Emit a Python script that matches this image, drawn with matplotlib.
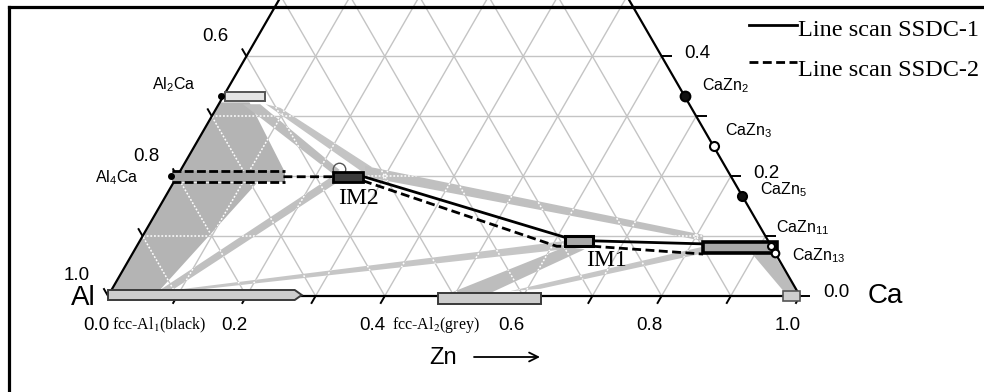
import numpy as np
import matplotlib
matplotlib.use('Agg')
import matplotlib.pyplot as plt
from matplotlib.patches import Polygon, Rectangle
from matplotlib.collections import LineCollection
from matplotlib.lines import Line2D

plt.rcParams['mathtext.fontset'] = 'custom'
plt.rcParams['mathtext.rm'] = 'Liberation Sans'
plt.rcParams['mathtext.it'] = 'Liberation Sans'
plt.rcParams['font.family'] = ['Liberation Sans', 'DejaVu Sans']

# ---------------- data (ternary compositions: Zn fraction, Ca fraction) -------------
zn_tick_values = [0.0, 0.2, 0.4, 0.6, 0.8, 1.0]
zn_tick_labels = ['0.0', '0.2', '0.4', '0.6', '0.8', '1.0']
al_tick_ca = [0.0, 0.2, 0.4]           # Ca level of Al-axis labels
al_tick_labels = ['1.0', '0.8', '0.6']
ca_tick_values = [0.0, 0.2, 0.4]
ca_tick_labels = ['0.0', '0.2', '0.4']

# compounds on the Ca-Zn edge
cmp_names = [r'CaZn$_{2}$', r'CaZn$_{3}$', r'CaZn$_{5}$', r'CaZn$_{11}$', r'CaZn$_{13}$']
cmp_ca = [0.333, 0.250, 0.167, 0.083, 0.071]

# phase composition ranges (rectangles): Zn range at a Ca level
ph_names = ['Al2Ca', 'Al4Ca', 'IM2', 'IM1', 'CaZn13', 'fcc-Al1', 'fcc-Al2', 'Zn']
ph_zn_lo = [0.003, -0.008, 0.226, 0.6145, 0.819, 0.000, 0.477, 0.975]
ph_zn_hi = [0.060, 0.156, 0.269, 0.655, 0.926, 0.280, 0.626, 1.000]
ph_ca = [0.333, 0.200, 0.199, 0.092, 0.081, 0.000, 0.000, 0.000]

# shaded phase-field regions (Zn, Ca)
region_big_upper = [(0.0, 0.323), (0.043, 0.323), (0.152, 0.207), (0.0, 0.204)]
region_big_lower = [(0.0, 0.189), (0.121, 0.189), (0.070, 0.010), (0.0, 0.007)]
band_al2ca_im2_a = [(0.035, 0.320), (0.060, 0.320), (0.230, 0.210), (0.223, 0.204)]
band_al2ca_im2_b = [(0.068, 0.320), (0.092, 0.314), (0.274, 0.215), (0.264, 0.207)]
band_im2_cazn13 = [(0.263, 0.217), (0.809, 0.102), (0.814, 0.092), (0.272, 0.199)]
band_fcc1_im2 = [(0.070, 0.010), (0.088, 0.010), (0.237, 0.190), (0.222, 0.197)]
band_fcc1_im1 = [(0.072, 0.007), (0.107, 0.008), (0.621, 0.078), (0.615, 0.092)]
band_fcc2_cazn13 = [(0.577, 0.008), (0.619, 0.012), (0.827, 0.072), (0.821, 0.083)]
band_fcc2_im1 = [(0.492, 0.005), (0.550, 0.005), (0.650, 0.078), (0.620, 0.082)]
band_cazn13_zn = [(0.896, 0.070), (0.927, 0.070), (0.995, 0.005), (0.976, 0.005)]

# line scans
ssdc1_zn = [0.267, 0.611, 0.655, 0.816]
ssdc1_ca = [0.200, 0.098, 0.092, 0.087]
ssdc2_zn = [0.154, 0.229, 0.267, 0.607, 0.659, 0.825]
ssdc2_ca = [0.199, 0.199, 0.194, 0.083, 0.083, 0.070]

# ---------------- geometry helpers ----------------
SIDE = 692.0          # triangle side in pixels
PX = 1.0 / SIDE       # one pixel in data units
H = np.sqrt(3) / 2


def tern(zn, ca):
    zn = np.asarray(zn, dtype=float)
    ca = np.asarray(ca, dtype=float)
    return zn + ca / 2.0, ca * H


W_, H_ = 984, 392
fig = plt.figure(figsize=(W_ / 100, H_ / 100), dpi=100)
ax = fig.add_axes([0, 0, 1, 1])
ax.set_xlim(-108 * PX, (W_ - 108) * PX)
ax.set_ylim(-(H_ - 296) * PX, 296 * PX)
ax.set_aspect('equal')
ax.axis('off')


def fx(px):
    return px / W_


def fy(py):
    return 1 - py / H_


# ---------------- grid ----------------
steps = np.round(np.arange(0.1, 1.0, 0.1), 2)
segs = []
for c in steps:
    segs.append(np.column_stack(tern([0, 1 - c], [c, c])))
for z in steps:
    segs.append(np.column_stack(tern([z, z], [0, 1 - z])))
for a in steps:
    segs.append(np.column_stack(tern([1 - a, 0], [0, 1 - a])))
ax.add_collection(LineCollection(segs, colors='#c4c4c4', linewidths=1.0, zorder=1))

# ---------------- shaded regions ----------------
regions = [
    (region_big_upper, '#b4b4b4'),
    (region_big_lower, '#b4b4b4'),
    (band_al2ca_im2_a, '#bdbdbd'),
    (band_al2ca_im2_b, '#c4c4c4'),
    (band_im2_cazn13, '#c0c0c0'),
    (band_fcc1_im2, '#c0c0c0'),
    (band_fcc1_im1, '#c6c6c6'),
    (band_fcc2_cazn13, '#c6c6c6'),
    (band_fcc2_im1, '#bdbdbd'),
    (band_cazn13_zn, '#bcbcbc'),
]
for verts, col in regions:
    zn, ca = zip(*verts)
    x, y = tern(zn, ca)
    poly = Polygon(np.column_stack([x, y]), closed=True, facecolor=col,
                   edgecolor='none', zorder=2)
    ax.add_patch(poly)
    lc = LineCollection(segs, colors='white', linewidths=1.1,
                        linestyles=(0, (1.2, 1.2)), zorder=3)
    ax.add_collection(lc)
    lc.set_clip_path(poly)

# ---------------- triangle edges & ticks ----------------
ex, ey = tern([0, 1, 0, 0], [0, 0, 1, 0])
ax.plot(ex, ey, color='black', lw=1.6, zorder=6, solid_capstyle='butt')

tick_len = 9 * PX
tk = []
for z in np.round(np.arange(0.1, 1.01, 0.1), 2):
    x0, y0 = tern(z, 0)
    tk.append([(x0, y0), (x0 - 0.5 * tick_len, y0 - H * tick_len)])
for c in np.round(np.arange(0.0, 0.45, 0.1), 2):
    x0, y0 = tern(0, c)
    tk.append([(x0, y0), (x0 - 0.5 * tick_len, y0 + H * tick_len)])
    x1, y1 = tern(1 - c, c)
    tk.append([(x1, y1), (x1 + 1.15 * tick_len, y1)])
ax.add_collection(LineCollection(tk, colors='black', linewidths=1.4, zorder=6))

# ---------------- phase rectangles ----------------
rect_style = {
    'Al2Ca': dict(h=9, fc='#e4e4e4', ec='#555555', lw=1.4, dy=0),
    'Al4Ca': dict(h=11, fc='#a6a6a6', ec='black', lw=2.0, dy=0),
    'IM2': dict(h=10, fc='#3c3c3c', ec='black', lw=2.0, dy=0),
    'IM1': dict(h=10, fc='#a8a8a8', ec='black', lw=2.2, dy=0),
    'CaZn13': dict(h=11, fc='#a8a8a8', ec='black', lw=2.6, dy=0),
    'fcc-Al1': dict(h=10, fc='#cdcdcd', ec='#3a3a3a', lw=1.4, dy=1),
    'fcc-Al2': dict(h=11, fc='#cdcdcd', ec='#3a3a3a', lw=1.4, dy=-2.5),
    'Zn': dict(h=10, fc='#cdcdcd', ec='#555555', lw=1.2, dy=0),
}
for name, zlo, zhi, c in zip(ph_names, ph_zn_lo, ph_zn_hi, ph_ca):
    st = rect_style[name]
    x0, yc = tern(zlo, c)
    x1, _ = tern(zhi, c)
    yc = yc + st['dy'] * PX
    h = st['h'] * PX
    if name == 'Al4Ca':
        ax.add_patch(Rectangle((x0, yc - h / 2), x1 - x0, h, facecolor=st['fc'],
                               edgecolor='none', zorder=7))
        for yy in (yc - h / 2, yc + h / 2):
            ax.plot([x0, x1], [yy, yy], color='black', lw=2.0,
                    linestyle=(0, (3.2, 1.2)), zorder=8)
    elif name == 'fcc-Al1':
        tip = 7 * PX
        pts = [(x0, yc - h / 2), (x1 - tip, yc - h / 2), (x1, yc),
               (x1 - tip, yc + h / 2), (x0, yc + h / 2)]
        ax.add_patch(Polygon(pts, closed=True, facecolor=st['fc'],
                             edgecolor=st['ec'], lw=st['lw'], zorder=8))
    else:
        ax.add_patch(Rectangle((x0, yc - h / 2), x1 - x0, h, facecolor=st['fc'],
                               edgecolor=st['ec'], lw=st['lw'], zorder=8))

# small markers on the Al-Ca edge and near IM2
mx, my = tern(0.0, 0.333)
ax.plot(mx - 2 * PX, my, marker='o', ms=4, mfc='black', mec='black', zorder=9)
mx, my = tern(0.0, 0.200)
ax.plot(mx - 6 * PX, my, marker='o', ms=4, mfc='black', mec='black', zorder=9)
mx, my = tern(ph_zn_lo[2], ph_ca[2])
ax.plot(mx + 6 * PX, my + 8 * PX, marker='o', ms=9, mfc='none', mec='#555555',
        mew=1.0, zorder=7)

# ---------------- line scans ----------------
x, y = tern(ssdc1_zn, ssdc1_ca)
ax.plot(x, y, color='black', lw=2.0, zorder=7, solid_capstyle='butt')
x, y = tern(ssdc2_zn, ssdc2_ca)
ax.plot(x, y, color='black', lw=2.0, linestyle=(0, (3.2, 1.6)), zorder=7)

# ---------------- compounds on Ca-Zn edge ----------------
face = ['#111111', 'white', '#111111', 'white', 'white']
sizes = [7, 6.5, 6.5, 5, 5.5]
for c, fcol, s in zip(cmp_ca, face, sizes):
    x, y = tern(1 - c, c)
    ax.plot(x, y, marker='o', ms=s, mfc=fcol, mec='black', mew=1.5, zorder=10)

cmp_text_pos = [(702, 86), (725, 131), (760, 190), (776, 228), (792, 256)]
for name, (px, py) in zip(cmp_names, cmp_text_pos):
    fig.text(fx(px), fy(py), name, fontsize=11.5, ha='left', va='center')

fig.text(fx(152), fy(85), r'Al$_{2}$Ca', fontsize=11.5, ha='left', va='center')
fig.text(fx(95), fy(178), r'Al$_{4}$Ca', fontsize=11.5, ha='left', va='center')

# ---------------- tick labels ----------------
for v, lab in zip(zn_tick_values, zn_tick_labels):
    ax.annotate(lab, tern(v, 0), xytext=(-12, -30), textcoords='offset pixels',
                ha='center', va='center', fontsize=13.5)
for c, lab in zip(al_tick_ca, al_tick_labels):
    ax.annotate(lab, tern(0, c), xytext=(-31, 20), textcoords='offset pixels',
                ha='center', va='center', fontsize=13.5)
for c, lab in zip(ca_tick_values, ca_tick_labels):
    ax.annotate(lab, tern(1 - c, c), xytext=(36, 3), textcoords='offset pixels',
                ha='center', va='center', fontsize=13.5)

# axis names
fig.text(fx(83), fy(298), 'Al', fontsize=20, ha='center', va='center')
fig.text(fx(885), fy(296), 'Ca', fontsize=20, ha='center', va='center')
fig.text(fx(443), fy(358), 'Zn', fontsize=17, ha='center', va='center')
ax.annotate('', xy=(fx(540), fy(357)), xytext=(fx(474), fy(357)),
            xycoords='figure fraction', textcoords='figure fraction',
            arrowprops=dict(arrowstyle='->', lw=1.3, color='black',
                            mutation_scale=16, shrinkA=0, shrinkB=0))

# phase labels (serif)
serif = ['Liberation Serif', 'DejaVu Serif']
fig.text(fx(358), fy(199), 'IM2', fontsize=17, family=serif, ha='center', va='center')
fig.text(fx(606), fy(261), 'IM1', fontsize=17, family=serif, ha='center', va='center')
fig.text(fx(112), fy(325), r'fcc-Al$_{1}$(black)', fontsize=11.5, family=serif,
         math_fontfamily='stix', ha='left', va='center')
fig.text(fx(392), fy(325), r'fcc-Al$_{2}$(grey)', fontsize=11.5, family=serif,
         math_fontfamily='stix', ha='left', va='center')

# ---------------- legend ----------------
fig.add_artist(Line2D([fx(749), fx(797)], [fy(25), fy(25)], color='black', lw=2.0))
fig.add_artist(Line2D([fx(749), fx(797)], [fy(62), fy(62)], color='black', lw=2.0,
                      linestyle=(0, (3.2, 1.6))))
fig.text(fx(798), fy(31), 'Line scan SSDC-1', fontsize=17.5, family=serif,
         ha='left', va='center')
fig.text(fx(798), fy(70), 'Line scan SSDC-2', fontsize=17.5, family=serif,
         ha='left', va='center')

# ---------------- frame (left & top) ----------------
fig.add_artist(Line2D([fx(8.5), fx(8.5)], [0, fy(6.5)], color='black', lw=2.3))
fig.add_artist(Line2D([fx(8.5), 1], [fy(6.5), fy(6.5)], color='black', lw=2.3))

fig.savefig('out.png', dpi=100)
